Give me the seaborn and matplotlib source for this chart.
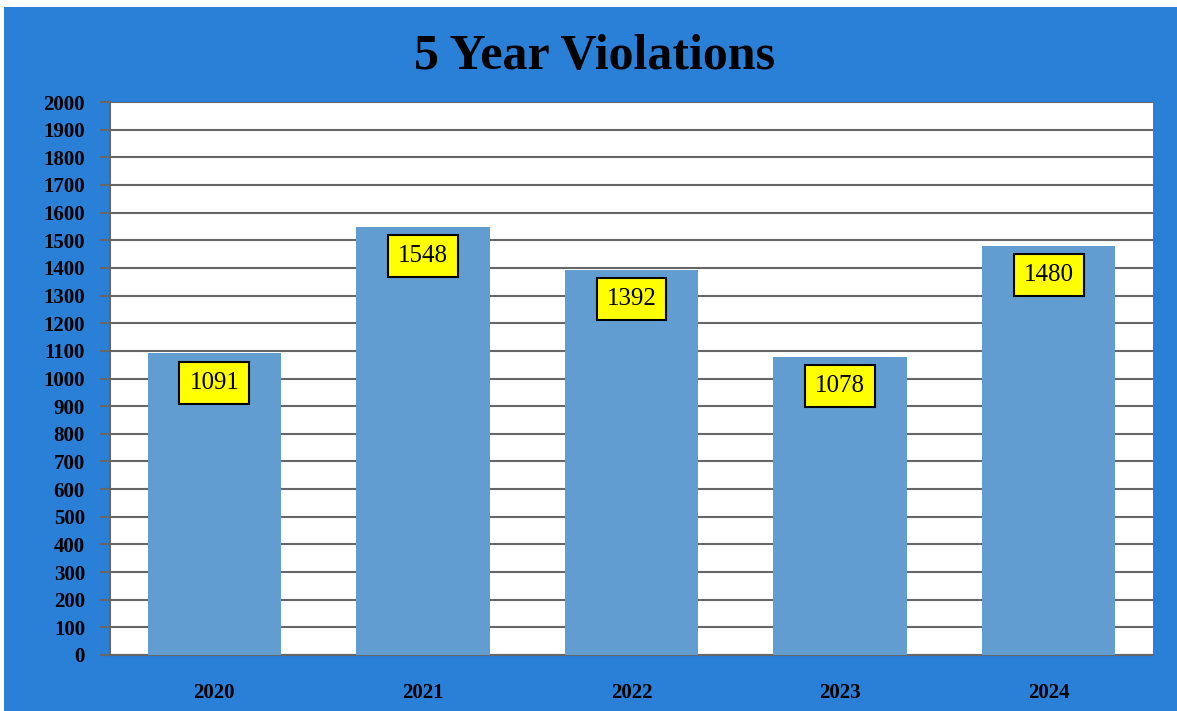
import matplotlib.pyplot as plt
import seaborn as sns
import pandas as pd
from matplotlib.patches import Rectangle

years = ['2020', '2021', '2022', '2023', '2024']
violations = [1091, 1548, 1392, 1078, 1480]
y_ticks = list(range(0, 2001, 100))

df = pd.DataFrame({'year': years, 'violations': violations})

sns.set_style('white')
plt.rcParams['font.family'] = ['Liberation Serif', 'DejaVu Serif']
plt.rcParams['text.color'] = 'black'

fig = plt.figure(figsize=(11.77, 7.11), dpi=100, facecolor='#2a7fd6')
# thin white margin at top and left, as in the screenshot
fig.patches.append(Rectangle((0, 1 - 7 / 711), 1, 7 / 711, transform=fig.transFigure,
                             facecolor='white', edgecolor='none'))
fig.patches.append(Rectangle((0, 0), 4 / 1177, 1, transform=fig.transFigure,
                             facecolor='white', edgecolor='none'))

ax = fig.add_axes([110 / 1177, 1 - 655 / 711, (1153 - 110) / 1177, (655 - 102) / 711])
ax.set_facecolor('white')

sns.barplot(data=df, x='year', y='violations', color='#619dd0', saturation=1,
            width=0.64, linewidth=0, edgecolor='none', ax=ax, zorder=3)

ax.set_ylim(0, 2000)
ax.set_xlim(-0.5, 4.5)
ax.set_yticks(y_ticks)
ax.set_yticklabels([str(t) for t in y_ticks], fontsize=15, fontweight='bold')
ax.set_xticklabels(years, fontsize=15, fontweight='bold')
ax.set_xlabel('')
ax.set_ylabel('')
ax.grid(axis='y', color='#666666', linewidth=1.5, zorder=1)
ax.set_axisbelow(True)
ax.tick_params(axis='y', left=True, length=7, width=1.5, color='#666666',
               labelcolor='black', pad=11)
ax.tick_params(axis='x', bottom=False, length=0, labelcolor='black', pad=20)
for side in ['top', 'right']:
    ax.spines[side].set_visible(False)
for side in ['left', 'bottom']:
    ax.spines[side].set_color('#666666')
    ax.spines[side].set_linewidth(1.5)

for i, v in enumerate(violations):
    ax.annotate(str(v), (i, v), xytext=(0, -21), textcoords='offset points',
                ha='center', va='center', fontsize=18, color='black', zorder=5,
                bbox=dict(boxstyle='square,pad=0.4', facecolor='yellow',
                          edgecolor='black', linewidth=1.5))

fig.text(595 / 1177, 1 - 57 / 711, '5 Year Violations', ha='center', va='center',
         fontsize=36, fontweight='bold', color='black')

fig.savefig('out.png', dpi=100, facecolor=fig.get_facecolor())
